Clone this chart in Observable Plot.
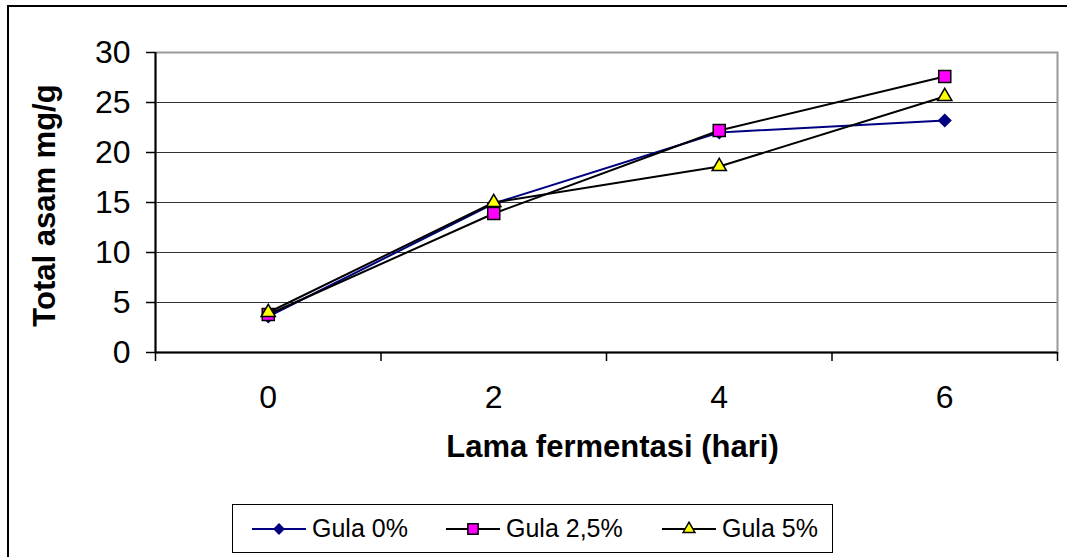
<!DOCTYPE html>
<html>
<head>
<meta charset="utf-8">
<script src="https://cdn.jsdelivr.net/npm/d3@7"></script>
<script src="https://cdn.jsdelivr.net/npm/@observablehq/plot@0.6"></script>
<style>
  html, body { margin: 0; padding: 0; background: #fff; overflow: hidden; }
  #wrap { position: relative; width: 1067px; height: 557px; overflow: hidden; font-family: "Liberation Sans", Arial, sans-serif; }
  #outer { position: absolute; left: 7px; top: 5px; width: 1080px; height: 580px; border: 2px solid #000; box-sizing: border-box; }
  #chart { position: absolute; left: 0; top: 0; }
  #legend { position: absolute; left: 232px; top: 504px; width: 601px; height: 49px; border: 1px solid #000; box-sizing: border-box; background: #fff; }
  .item { position: absolute; top: 0; height: 47px; display: flex; align-items: center; font-size: 25px; color: #000; }
  .item svg { margin-right: 5px; }
</style>
</head>
<body>
<div id="wrap">
  <div id="outer"></div>
  <div id="chart"></div>
  <div id="legend"></div>
</div>
<script>
const days = [0, 2, 4, 6];
const seriesNames = ["Gula 0%", "Gula 2,5%", "Gula 5%"];
const gula0 = [3.6, 14.9, 22.0, 23.2];
const gula25 = [3.8, 13.9, 22.2, 27.6];
const gula5 = [4.0, 15.0, 18.6, 25.6];
const yTicks = [0, 5, 10, 15, 20, 25, 30];
const xTitle = "Lama fermentasi (hari)";
const yTitle = "Total asam mg/g";

const styles = [
  {line: "#000080", fill: "#000080", stroke: "#000080", symbol: "diamond2", r: 5.4, lr: 4.4},
  {line: "#000000", fill: "#FF00FF", stroke: "#000000", symbol: "square", r: 6.8, lr: 5.8},
  {line: "#000000", fill: "#FFFF00", stroke: "#000000", symbol: "triangle", r: 5.3, lr: 4.4}
];
const values = [gula0, gula25, gula5];
const tables = values.map((vals, i) => days.map((d, j) => ({day: d, value: vals[j], series: seriesNames[i]})));

const font = "Liberation Sans, Arial, sans-serif";
const marks = [
  Plot.ruleY(yTicks.filter(t => t > 0 && t < 30), {stroke: "#333", strokeWidth: 1.2}),
  Plot.frame({stroke: "#999", strokeWidth: 2}),
  Plot.axisY(yTicks, {tickSize: 9, tickPadding: 16, fontSize: 32, stroke: "#000", label: null, strokeWidth: 1.5}),
  Plot.axisX([-1, 1, 3, 5, 7], {tickSize: 9, tickFormat: () => "", stroke: "#000", label: null, strokeWidth: 1.5}),
  Plot.axisX(days, {tickSize: 0, tickPadding: 33, fontSize: 32, label: null}),
  Plot.ruleX([-1], {stroke: "#000", strokeWidth: 2}),
  Plot.ruleY([0], {stroke: "#000", strokeWidth: 2}),
  Plot.text([yTitle], {frameAnchor: "left", textAnchor: "middle", dx: -110, dy: 3, rotate: -90, fontSize: 31, fontWeight: "bold", fill: "#000"}),
  Plot.text([xTitle], {frameAnchor: "bottom", dx: 6, dy: 104, fontSize: 31, fontWeight: "bold", fill: "#000"})
];
tables.forEach((t, i) => {
  const s = styles[i];
  marks.push(Plot.line(t, {x: "day", y: "value", stroke: s.line, strokeWidth: 2}));
  marks.push(Plot.dot(t, {x: "day", y: "value", symbol: () => s.symbol, r: s.r, fill: s.fill, stroke: s.stroke, strokeWidth: 1.5}));
});

const chart = Plot.plot({
  width: 1067,
  height: 557,
  marginLeft: 155,
  marginRight: 10,
  marginTop: 52,
  marginBottom: 205,
  style: {fontFamily: font, fontSize: "32px", color: "#000", background: "transparent", overflow: "visible"},
  x: {type: "linear", domain: [-1, 7]},
  y: {type: "linear", domain: [0, 30]},
  symbol: {type: "identity"},
  marks
});
document.getElementById("chart").appendChild(chart);

// Legend
const legend = document.getElementById("legend");
const itemLeft = [18, 212, 428];
seriesNames.forEach((name, i) => {
  const s = styles[i];
  const div = document.createElement("div");
  div.className = "item";
  div.style.left = itemLeft[i] + "px";
  const svg = d3.create("svg").attr("width", 56).attr("height", 20);
  svg.append("line").attr("x1", 1).attr("x2", 55).attr("y1", 10).attr("y2", 10).attr("stroke", s.line).attr("stroke-width", 2);
  const sym = {diamond2: d3.symbolDiamond2, square: d3.symbolSquare, triangle: d3.symbolTriangle}[s.symbol];
  const size = Math.PI * s.lr * s.lr;
  svg.append("path").attr("d", d3.symbol(sym, size)()).attr("transform", "translate(28,10)")
    .attr("fill", s.fill).attr("stroke", s.stroke).attr("stroke-width", 1.5);
  div.appendChild(svg.node());
  const span = document.createElement("span");
  span.textContent = name;
  div.appendChild(span);
  legend.appendChild(div);
});
</script>
</body>
</html>
